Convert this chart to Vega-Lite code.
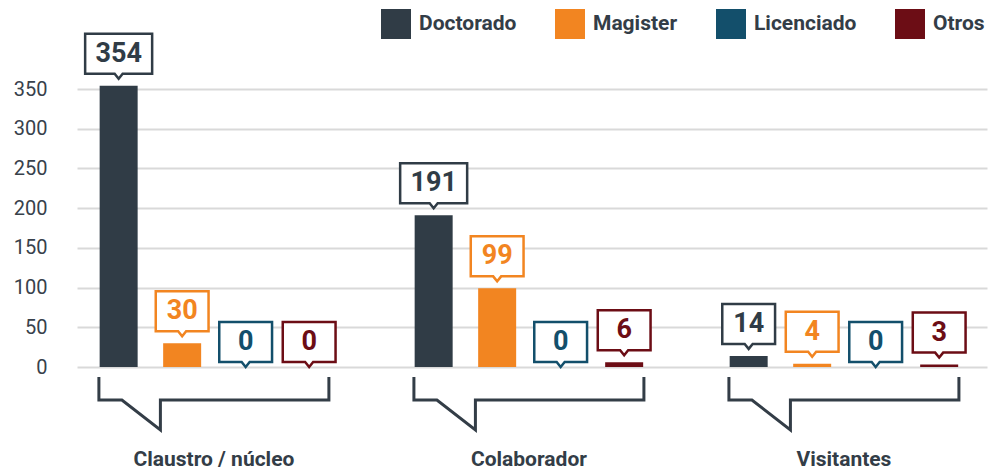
{
  "$schema": "https://vega.github.io/schema/vega-lite/v6.json",
  "width": 910,
  "height": 278,
  "autosize": {"type": "none"},
  "padding": {"left": 77, "top": 89, "right": 15, "bottom": 105},
  "background": "white",
  "config": {"font": "Roboto", "view": {"stroke": null}},
  "data": {
    "values": [
      {"grupo": "Claustro / núcleo", "serie": "Doctorado", "valor": 354},
      {"grupo": "Claustro / núcleo", "serie": "Magister", "valor": 30},
      {"grupo": "Claustro / núcleo", "serie": "Licenciado", "valor": 0},
      {"grupo": "Claustro / núcleo", "serie": "Otros", "valor": 0},
      {"grupo": "Colaborador", "serie": "Doctorado", "valor": 191},
      {"grupo": "Colaborador", "serie": "Magister", "valor": 99},
      {"grupo": "Colaborador", "serie": "Licenciado", "valor": 0},
      {"grupo": "Colaborador", "serie": "Otros", "valor": 6},
      {"grupo": "Visitantes", "serie": "Doctorado", "valor": 14},
      {"grupo": "Visitantes", "serie": "Magister", "valor": 4},
      {"grupo": "Visitantes", "serie": "Licenciado", "valor": 0},
      {"grupo": "Visitantes", "serie": "Otros", "valor": 3}
    ]
  },
  "encoding": {
    "x": {
      "field": "grupo",
      "type": "nominal",
      "sort": ["Claustro / núcleo", "Colaborador", "Visitantes"],
      "scale": {"paddingInner": 0.2746, "paddingOuter": 0.0817, "align": 0.44},
      "axis": {
        "title": null,
        "labelAngle": 0,
        "domain": false,
        "ticks": false,
        "grid": false,
        "labelPadding": 81,
        "labelFontSize": 21,
        "labelFontWeight": "bold",
        "labelColor": "#333d47",
        "labelFont": "Roboto",
        "labelDx": 3
      }
    },
    "y": {
      "field": "valor",
      "type": "quantitative",
      "scale": {"domain": [0, 350], "nice": false, "zero": true},
      "axis": {
        "title": null,
        "values": [0, 50, 100, 150, 200, 250, 300, 350],
        "domain": false,
        "ticks": false,
        "labelPadding": 30,
        "labelFontSize": 20,
        "labelColor": "#38414b",
        "labelFont": "Roboto",
        "gridColor": "#d9d9d9",
        "gridWidth": 2
      }
    }
  },
  "layer": [
    {
      "mark": {"type": "bar"},
      "encoding": {
        "xOffset": {
          "field": "serie",
          "type": "nominal",
          "sort": ["Doctorado", "Magister", "Licenciado", "Otros"],
          "scale": {"paddingInner": 0.4016, "paddingOuter": 0}
        },
        "color": {
          "field": "serie",
          "type": "nominal",
          "scale": {
            "domain": ["Doctorado", "Magister", "Licenciado", "Otros"],
            "range": ["#303c46", "#f28521", "#134f6b", "#6c0d15"]
          },
          "legend": {
            "title": null,
            "orient": "none",
            "legendX": 304,
            "legendY": -80,
            "direction": "horizontal",
            "columns": 4,
            "symbolType": "square",
            "symbolSize": 900,
            "symbolStrokeWidth": 0,
            "symbolOpacity": 1,
            "labelFontSize": 21,
            "labelFont": "Roboto",
            "labelFontWeight": "bold",
            "labelColor": "#333d47",
            "columnPadding": 38,
            "labelOffset": 8
          }
        }
      }
    },
    {
      "transform": [{"filter": "datum.serie === 'Doctorado'"}],
      "mark": {
        "type": "point",
        "shape": "M -2.875 0.25 L -2.875 0.825 L -2.3 0.825 L -1.3375 1.575 L -1.3375 0.825 L 2.875 0.825 L 2.875 0.25",
        "size": 6400,
        "filled": false,
        "stroke": "#333d47",
        "strokeWidth": 3,
        "opacity": 1,
        "strokeJoin": "miter"
      },
      "encoding": {
        "y": {"datum": 0, "type": "quantitative"}
      }
    },
    {
      "transform": [{"filter": "datum.valor >= 100"}],
      "mark": {
        "type": "point",
        "shape": "M -0.8375 -1.3 L 0.8375 -1.3 L 0.8375 -0.3 L 0.1 -0.3 L 0 -0.175 L -0.1 -0.3 L -0.8375 -0.3 Z",
        "size": 6400,
        "filled": true,
        "fill": "white",
        "strokeWidth": 2.5,
        "opacity": 1,
        "strokeJoin": "miter"
      },
      "encoding": {
        "xOffset": {"field": "serie", "type": "nominal", "sort": ["Doctorado", "Magister", "Licenciado", "Otros"], "scale": {"paddingInner": 0.4016, "paddingOuter": 0}},
        "stroke": {"field": "serie", "type": "nominal", "scale": {"domain": ["Doctorado", "Magister", "Licenciado", "Otros"], "range": ["#303c46", "#f28521", "#134f6b", "#6c0d15"]}, "legend": null}
      }
    },
    {
      "transform": [{"filter": "datum.valor > 0 && datum.valor < 100"}],
      "mark": {
        "type": "point",
        "shape": "M -0.66 -1.3 L 0.66 -1.3 L 0.66 -0.3 L 0.1 -0.3 L 0 -0.175 L -0.1 -0.3 L -0.66 -0.3 Z",
        "size": 6400,
        "filled": true,
        "fill": "white",
        "strokeWidth": 2.5,
        "opacity": 1,
        "strokeJoin": "miter"
      },
      "encoding": {
        "xOffset": {"field": "serie", "type": "nominal", "sort": ["Doctorado", "Magister", "Licenciado", "Otros"], "scale": {"paddingInner": 0.4016, "paddingOuter": 0}},
        "stroke": {"field": "serie", "type": "nominal", "scale": {"domain": ["Doctorado", "Magister", "Licenciado", "Otros"], "range": ["#303c46", "#f28521", "#134f6b", "#6c0d15"]}, "legend": null}
      }
    },
    {
      "transform": [{"filter": "datum.valor == 0"}],
      "mark": {
        "type": "point",
        "shape": "M -0.66 -1.125 L 0.66 -1.125 L 0.66 -0.125 L 0.1 -0.125 L 0 0 L -0.1 -0.125 L -0.66 -0.125 Z",
        "size": 6400,
        "filled": true,
        "fill": "white",
        "strokeWidth": 2.5,
        "opacity": 1,
        "strokeJoin": "miter"
      },
      "encoding": {
        "xOffset": {"field": "serie", "type": "nominal", "sort": ["Doctorado", "Magister", "Licenciado", "Otros"], "scale": {"paddingInner": 0.4016, "paddingOuter": 0}},
        "stroke": {"field": "serie", "type": "nominal", "scale": {"domain": ["Doctorado", "Magister", "Licenciado", "Otros"], "range": ["#303c46", "#f28521", "#134f6b", "#6c0d15"]}, "legend": null}
      }
    },
    {
      "transform": [{"filter": "datum.valor > 0"}],
      "mark": {"type": "text", "fontSize": 27, "fontWeight": "bold", "font": "Roboto", "baseline": "middle", "align": "center", "dy": -32},
      "encoding": {
        "xOffset": {"field": "serie", "type": "nominal", "sort": ["Doctorado", "Magister", "Licenciado", "Otros"], "scale": {"paddingInner": 0.4016, "paddingOuter": 0}},
        "text": {"field": "valor", "type": "quantitative"},
        "color": {"field": "serie", "type": "nominal", "legend": null}
      }
    },
    {
      "transform": [{"filter": "datum.valor == 0"}],
      "mark": {"type": "text", "fontSize": 27, "fontWeight": "bold", "font": "Roboto", "baseline": "middle", "align": "center", "dy": -25},
      "encoding": {
        "xOffset": {"field": "serie", "type": "nominal", "sort": ["Doctorado", "Magister", "Licenciado", "Otros"], "scale": {"paddingInner": 0.4016, "paddingOuter": 0}},
        "text": {"field": "valor", "type": "quantitative"},
        "color": {"field": "serie", "type": "nominal", "legend": null}
      }
    }
  ]
}
